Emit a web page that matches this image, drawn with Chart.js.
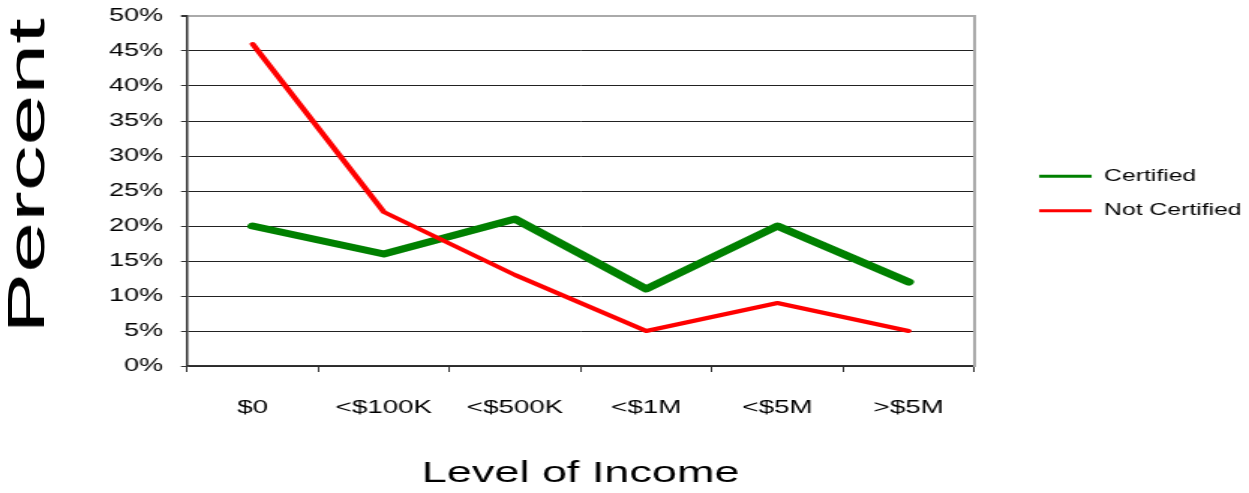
<!DOCTYPE html>
<html>
<head>
<meta charset="utf-8">
<script src="https://cdn.jsdelivr.net/npm/chart.js@4/dist/chart.umd.min.js"></script>
<style>
  html, body { margin: 0; padding: 0; background: #fff; }
  #wrap { position: relative; width: 1249px; height: 493px; overflow: hidden; }
  #c { position: absolute; left: 0; top: 0; transform-origin: 0 0; transform: scaleX(1.4994); }
  #ytitle {
    position: absolute; left: 26px; top: 176px;
    font-family: "Liberation Sans", Arial, sans-serif; font-size: 52px; line-height: 52px;
    white-space: nowrap; color: #000;
    transform: translate(-50%, -50%) rotate(-90deg) scaleX(1.76);
  }
</style>
</head>
<body>
<div id="wrap">
  <canvas id="c" width="833" height="493"></canvas>
  <div id="ytitle">Percent</div>
</div>
<script>
// Chart data
const incomeLevels = ['$0', '<$100K', '<$500K', '<$1M', '<$5M', '>$5M'];
const certified = [20, 16, 21, 11, 20, 12];
const notCertified = [46, 22, 13, 5, 9, 5];
const percentTicks = [0, 50, 5]; // min, max, step

const font = 'Liberation Sans, Arial, sans-serif';

const ctx = document.getElementById('c').getContext('2d');
new Chart(ctx, {
  type: 'line',
  data: {
    labels: incomeLevels,
    datasets: [{
      label: 'Certified',
      data: certified,
      borderColor: '#008000',
      backgroundColor: '#008000',
      borderWidth: 7,
      order: 1
    }, {
      label: 'Not Certified',
      data: notCertified,
      borderColor: '#ff0000',
      backgroundColor: '#ff0000',
      borderWidth: 4,
      order: 0
    }]
  },
  options: {
    responsive: false,
    animation: false,
    devicePixelRatio: 1,
    elements: {
      point: { radius: 0, hoverRadius: 0 },
      line: { tension: 0, fill: false, borderCapStyle: 'round', borderJoinStyle: 'round' }
    },
    layout: { padding: { left: 60.7, right: -5, top: 16, bottom: 0 } },
    plugins: {
      tooltip: { enabled: false },
      legend: {
        position: 'right',
        fullSize: false,
        maxWidth: 220,
        // empty title only nudges the items down a little
        title: { display: true, text: '', font: { size: 4 }, padding: 0 },
        labels: {
          boxWidth: 35,
          boxHeight: 3,
          padding: 18,
          color: '#000',
          font: { family: font, size: 16.5 },
          sort: (a, b) => a.datasetIndex - b.datasetIndex,
          generateLabels: (chart) => {
            const items = Chart.defaults.plugins.legend.labels.generateLabels(chart);
            items.forEach(it => { it.lineWidth = 0; it.fillStyle = it.strokeStyle; });
            return items;
          }
        }
      }
    },
    scales: {
      x: {
        type: 'category',
        offset: true,
        grid: { offset: true, drawOnChartArea: false, drawTicks: true, tickLength: 6, color: '#333' },
        border: { display: true, color: '#333', width: 1.5 },
        ticks: { color: '#000', padding: 25, font: { family: font, size: 18.5 }, maxRotation: 0 },
        title: {
          display: true,
          text: 'Level of Income',
          color: '#000',
          font: { family: font, size: 30 },
          padding: { top: 0, bottom: 1 }
        },
        afterFit: s => { s.height = 127; }
      },
      y: {
        min: percentTicks[0],
        max: percentTicks[1],
        ticks: {
          stepSize: percentTicks[2],
          color: '#000',
          padding: 12,
          font: { family: font, size: 18 },
          callback: v => v + '%'
        },
        grid: {
          color: c => (c.tick && c.tick.value === percentTicks[1]) ? '#aaa' : '#222',
          tickColor: '#333',
          tickLength: 4,
          lineWidth: c => (c.tick && c.tick.value === percentTicks[1]) ? 2 : 1
        },
        border: { display: true, color: '#333', width: 1.5 },
        afterFit: s => { s.paddingTop = 0; s.paddingBottom = 0; }
      },
      // spacer on the right side of the plot, draws the grey frame edge
      frame: {
        type: 'linear',
        position: 'right',
        display: true,
        ticks: { display: false },
        grid: { display: false, drawTicks: false },
        border: { display: true, color: '#aaa', width: 2 },
        afterFit: s => { s.width = 25.3; s.paddingTop = 0; s.paddingBottom = 0; }
      }
    }
  }
});
</script>
</body>
</html>
